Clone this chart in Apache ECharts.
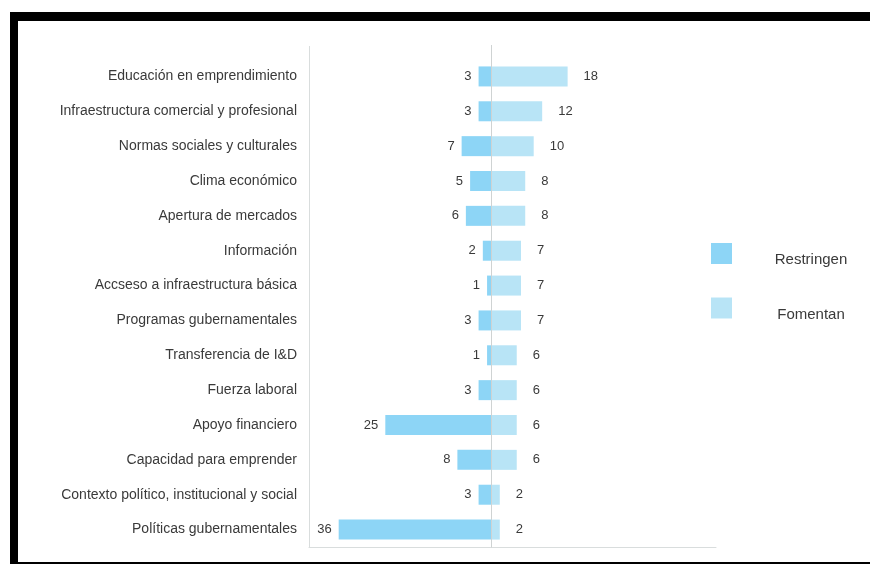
<!DOCTYPE html>
<html>
<head>
<meta charset="utf-8">
<script src="https://cdn.jsdelivr.net/npm/echarts@6/dist/echarts.min.js"></script>
<style>
  html, body { margin: 0; padding: 0; background: #fff; }
  #chart { width: 870px; height: 564px; }
</style>
</head>
<body>
<div id="chart"></div>
<script>
// Factors, top to bottom
const categories = [
  'Educación en emprendimiento',
  'Infraestructura comercial y profesional',
  'Normas sociales y culturales',
  'Clima económico',
  'Apertura de mercados',
  'Información',
  'Accseso a infraestructura básica',
  'Programas gubernamentales',
  'Transferencia de I&D',
  'Fuerza laboral',
  'Apoyo financiero',
  'Capacidad para emprender',
  'Contexto político, institucional y social',
  'Políticas gubernamentales'
];
// Mentions that restrict entrepreneurship (drawn to the left of zero)
const restringen = [3, 3, 7, 5, 6, 2, 1, 3, 1, 3, 25, 8, 3, 36];
// Mentions that foster entrepreneurship (drawn to the right of zero)
const fomentan = [18, 12, 10, 8, 8, 7, 7, 7, 6, 6, 6, 6, 2, 2];
const seriesNames = ['Restringen', 'Fomentan'];

const FONT = '"Liberation Sans", Arial, sans-serif';
const X_MIN = -43;
const X_MAX = 53;
const chart = echarts.init(document.getElementById('chart'));

const option = {
  animation: false,
  backgroundColor: '#ffffff',
  textStyle: { fontFamily: FONT },
  grid: { left: 309, right: 154, top: 59, bottom: 17, containLabel: false },
  xAxis: {
    type: 'value',
    min: X_MIN,
    max: X_MAX,
    axisLine: { show: true, onZero: false, lineStyle: { color: '#d9dddd', width: 1 } },
    axisTick: { show: false },
    axisLabel: { show: false },
    splitLine: { show: false }
  },
  yAxis: {
    type: 'category',
    data: categories,
    inverse: true,
    axisLine: { show: false },
    axisTick: { show: false },
    axisLabel: { margin: 12, fontSize: 14, color: '#3a3a3a', fontFamily: FONT }
  },
  legend: {
    orient: 'vertical',
    left: 706,
    top: 238,
    itemWidth: 21,
    itemHeight: 21,
    itemGap: 30,
    icon: 'rect',
    data: seriesNames,
    formatter: name => '{t|' + name + '}',
    textStyle: {
      fontSize: 15, color: '#3a3a3a', fontFamily: FONT,
      rich: {
        t: { width: 78, align: 'center', padding: [13, 0, 0, 35], fontSize: 15, color: '#3a3a3a', fontFamily: FONT }
      }
    }
  },
  series: [
    {
      name: seriesNames[0],
      type: 'bar',
      barWidth: 20,
      barGap: '-100%',
      itemStyle: { color: '#8dd5f6' },
      label: {
        show: true, position: 'left', distance: 7,
        fontSize: 13, color: '#3a3a3a', fontFamily: FONT,
        formatter: p => String(Math.abs(p.value))
      },
      data: restringen.map(v => -v)
    },
    {
      name: seriesNames[1],
      type: 'bar',
      barWidth: 20,
      itemStyle: { color: '#b8e4f6' },
      label: {
        show: true, position: 'right', distance: 16,
        fontSize: 13, color: '#3a3a3a', fontFamily: FONT
      },
      data: fomentan
    }
  ]
};
chart.setOption(option);

// Zero line, left axis line and the black frame
const zeroX = chart.convertToPixel({ xAxisIndex: 0 }, 0);
const axisLeft = chart.convertToPixel({ xAxisIndex: 0 }, X_MIN);
const axisBottom = 547.5;
chart.setOption({
  graphic: [
    { type: 'line', z: 100, silent: true,
      shape: { x1: Math.round(zeroX) + 0.5, y1: 45, x2: Math.round(zeroX) + 0.5, y2: axisBottom },
      style: { stroke: '#cfd3d3', lineWidth: 1 } },
    { type: 'line', z: 100, silent: true,
      shape: { x1: Math.round(axisLeft) + 0.5, y1: 46, x2: Math.round(axisLeft) + 0.5, y2: axisBottom },
      style: { stroke: '#d9dddd', lineWidth: 1 } },
    { type: 'rect', silent: true, shape: { x: 10, y: 12, width: 860, height: 9 }, style: { fill: '#000' } },
    { type: 'rect', silent: true, shape: { x: 10, y: 12, width: 8, height: 552 }, style: { fill: '#000' } },
    { type: 'rect', silent: true, shape: { x: 10, y: 562, width: 860, height: 2 }, style: { fill: '#000' } }
  ]
});
</script>
</body>
</html>
